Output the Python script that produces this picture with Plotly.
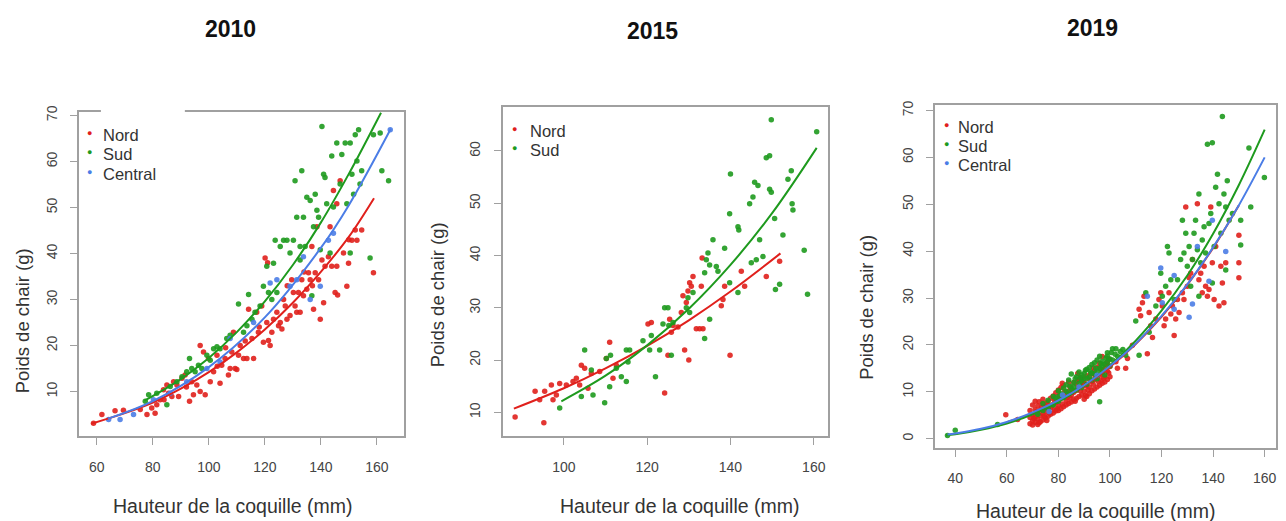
import plotly.graph_objects as go

W, H = 1286, 521
RED, GREEN, BLUE = "#E0201C", "#1E9A1E", "#4B7DE6"

# ---------------- 2010 ----------------
nord10_x = [58.8,61.8,66.5,69.5,75.5,77.9,79.6,80.8,81.4,82.6,83.8,84.0,85.0,85.6,86.8,87.4,88.6,89.2,90.4,91.5,92.0,93.1,93.9,94.5,95.7,96.9,96.9,98.1,98.7,99.9,100.5,101.7,102.9,103.0,104.0,104.6,105.8,106.0,107.0,107.6,108.2,108.8,109.4,110.0,110.6,111.2,112.4,113.0,113.6,114.2,115.4,116.0,117.1,117.7,118.0,118.9,119.5,120.1,120.7,121.0,121.3,121.9,122.5,123.1,124.3,124.9,125.5,126.1,126.7,127.3,127.9,128.0,129.0,129.6,130.2,130.8,131.4,132.0,132.6,133.2,133.8,134.0,135.0,135.6,136.2,136.8,137.0,137.4,138.0,138.6,139.2,139.8,140.4,141.0,141.5,142.7,143.3,143.9,144.5,145.1,145.7,145.7,146.0,146.9,148.1,149.3,149.9,150.0,151.1,152.3,152.9,154.6,158.8]
nord10_y = [3.1,5.0,5.8,5.9,6.1,5.0,6.4,5.3,7.1,8.2,10.4,8.2,11.4,9.6,8.9,12.1,11.4,8.9,12.9,13.6,11.0,7.9,12.1,9.3,11.4,10.0,20.0,18.6,9.3,17.2,12.1,14.3,17.9,15.5,11.8,15.7,17.2,19.5,13.6,15.0,18.6,22.9,15.0,14.8,17.9,20.0,17.2,21.0,17.2,27.9,21.5,17.2,27.2,22.9,24.0,28.6,20.7,39.0,25.0,38.0,21.1,20.0,22.9,25.7,27.2,24.3,25.0,23.6,30.0,28.6,25.7,33.0,26.5,34.3,31.5,28.6,27.2,31.5,27.2,34.3,30.8,36.0,32.2,35.8,34.3,41.5,33.0,27.9,35.8,45.8,34.3,25.7,38.6,29.3,37.2,39.3,45.8,37.2,53.7,31.5,37.2,50.8,31.0,55.8,40.1,32.9,37.9,43.0,42.9,45.1,42.9,45.1,35.8]
sud10_x = [77.3,78.5,81.4,85.0,86.2,88.6,90.4,92.1,93.1,93.9,95.1,96.3,97.5,99.3,100.5,101.7,102.9,104.0,106.4,107.6,110.6,112.4,113.6,114.2,115.4,116.5,118.3,119.5,120.7,121.3,122.5,123.1,123.7,124.3,125.5,126.7,127.9,129.0,130.2,130.8,131.4,132.6,132.6,133.2,133.8,134.4,135.0,136.2,136.8,137.4,138.0,138.6,139.2,139.8,140.4,141.0,141.5,142.1,143.3,143.9,144.5,145.7,146.9,147.5,148.7,149.3,150.5,150.5,151.1,151.7,152.3,152.9,153.5,154.0,154.6,157.6,158.8,161.2,161.8,164.2]
sud10_y = [7.9,9.3,9.6,7.1,11.1,12.1,13.2,14.3,17.2,15.0,14.3,15.7,15.0,17.9,16.8,19.3,19.7,19.3,21.5,22.2,29.0,22.9,24.3,31.1,25.7,27.2,28.6,32.9,37.2,31.5,30.0,37.9,42.9,31.5,41.5,42.9,42.9,40.1,42.9,55.8,47.9,38.6,41.5,58.0,47.9,41.5,52.2,51.5,30.8,45.8,52.9,49.4,47.9,40.8,67.6,57.2,56.5,50.8,40.1,61.2,50.1,64.0,55.1,61.5,64.0,50.8,64.0,40.1,57.2,52.9,65.8,60.1,66.9,55.1,58.0,39.0,65.8,66.2,58.0,55.8]
central10_x = [64.2,68.3,73.1,80.2,86.2,92.1,99.3,104.0,107.6,116.0,121.9,124.3,129.0,131.4,133.8,136.2,139.8,142.7,144.5,164.8]
central10_y = [3.9,3.9,5.0,8.2,9.6,12.1,15.0,16.4,21.5,25.0,33.6,34.3,32.9,34.3,39.3,30.0,32.9,42.9,44.4,66.9]
# fitted curves
fit_nord10_x = [58,70,80,90,100,110,120,130,140,150,159]
fit_nord10_y = [3.0,5.3,7.6,10.6,14.2,18.5,23.5,29.3,36.0,43.6,52.0]
fit_sud10_x = [77,90,100,110,120,130,140,150,161.5]
fit_sud10_y = [8.0,12.7,17.3,22.9,29.6,37.5,46.7,57.3,70.6]
fit_central10_x = [64,80,100,120,140,150,165]
fit_central10_y = [4.1,7.9,15.3,26.1,41.2,50.5,67.1]

# ---------------- 2015 ----------------
nord15_x = [88.3,93.1,94.2,95.2,95.4,97.0,97.4,98.2,99.0,100.6,102.2,103.0,103.8,104.2,105.0,105.8,106.6,108.6,110.2,111.0,111.8,112.6,120.2,121.0,124.2,125.0,125.4,125.8,126.2,127.4,128.2,128.6,129.0,129.4,129.8,130.2,130.0,130.6,131.0,131.8,132.6,133.0,133.4,133.2,137.8,138.2,138.6,139.9,142.6,143.4,148.6,151.8]
nord15_y = [9.1,14.0,12.4,8.0,14.0,15.2,12.4,13.3,15.5,15.2,15.9,16.5,15.2,19.0,18.4,14.6,17.4,17.8,20.3,23.4,16.5,19.0,26.9,27.2,13.7,20.9,27.8,25.3,26.6,26.3,29.1,32.3,21.9,31.0,33.2,34.8,20.0,34.1,36.0,26.0,26.0,34.1,26.0,39.5,30.4,31.6,34.1,20.9,37.0,34.1,36.0,38.9]
sud15_x = [99.0,104.2,105.0,106.6,107.0,109.8,110.2,111.0,111.2,112.6,113.8,115.0,115.0,115.4,115.8,119.0,120.6,121.0,122.0,123.0,123.8,124.2,125.0,125.2,125.8,126.2,129.4,129.8,130.2,131.0,133.8,133.8,134.2,134.6,135.0,135.0,135.8,136.6,137.0,138.6,139.8,139.8,140.0,141.8,141.8,142.0,144.6,145.0,145.4,145.8,146.2,146.6,147.0,147.8,148.6,149.4,149.8,149.4,149.8,150.6,150.8,151.8,152.6,153.8,154.6,154.8,155.0,157.7,158.5,160.7]
sud15_y = [10.8,13.0,21.9,18.1,13.3,11.8,20.3,14.9,20.9,18.4,16.8,15.9,21.9,19.6,21.9,23.7,21.9,24.7,16.8,21.9,26.9,30.0,30.0,26.6,20.9,27.2,30.0,31.9,29.1,32.9,24.1,36.7,39.2,40.5,38.2,27.8,43.0,37.9,37.0,41.4,48.0,34.8,55.6,45.5,32.9,44.9,49.9,38.6,51.2,54.0,39.2,53.4,43.0,39.8,58.7,59.1,66.0,52.7,52.1,47.1,33.5,34.5,43.9,54.6,56.2,49.9,48.7,41.0,32.6,63.7]
fit_nord15_x = [88,100,110,120,130,140,152]
fit_nord15_y = [10.7,14.6,18.4,22.7,27.6,33.1,40.4]
fit_sud15_x = [99.4,110,120,130,140,150,160.7]
fit_sud15_y = [12.1,17.0,22.8,29.8,38.2,48.1,60.6]

# ---------------- 2019 ----------------
nord19_x = [59.6,64.2,69,69,69,70,70,70,70,71,71,71,71,72,72,72,72,73,73,73,74,74,74,74,75,75,75,76,76,76,77,77,77,78,78,78,79,79,79,80,80,80,80,81,81,81,82,82,82,83,83,83,84,84,84,85,85,85,86,86,86,87,87,87,88,88,88,89,89,89,90,90,90,91,91,91,92,92,92,93,93,93,94,94,94,95,95,95,96,96,96,97,97,97,98,98,98,99,99,99,100,100,
            70.5,71.5,72.5,73.5,74.5,75.5,76.5,77.5,78.5,79.5,80.5,81.5,82.5,83.5,84.5,85.5,86.5,87.5,88.5,89.5,90.5,91.5,92.5,93.5,94.5,95.5,96.5,97.5,98.5,99.5,72.5,75.5,78.5,81.5,84.5,87.5,90.5,93.5,96.5,99.5,
            102.3,102.9,106.1,106.8,108.7,111.3,111.9,112.6,113.2,114.5,115.2,115.8,116.5,117.8,119.0,119.7,120.3,121.0,121.6,122.9,123.6,124.2,124.9,125.5,126.2,126.8,128.1,128.7,129.4,130.0,130.7,131.3,132.0,133.9,134.5,135.2,135.8,136.5,137.1,137.8,138.4,139.1,139.7,140.4,141.0,142.3,143.0,143.6,144.2,144.9,150.0,150.0,150.0]
nord19_y = [5.1,4.1,3.2,4.5,6.0,2.9,3.8,5.1,7.2,3.5,4.6,6.3,8.0,3.0,4.2,5.5,7.0,3.6,4.9,6.1,4.0,5.3,7.4,8.4,4.4,5.8,6.8,4.8,6.2,7.9,5.2,6.6,8.6,5.5,7.3,9.1,5.9,7.7,9.8,6.0,8.2,10.4,7.0,6.4,8.6,10.9,6.8,9.0,11.3,7.2,9.5,8.1,7.5,10.0,12.1,7.8,9.2,10.8,8.3,9.9,12.0,8.6,10.3,11.6,9.0,10.8,12.6,9.3,11.2,13.0,8.4,10.1,12.0,9.0,11.5,13.4,9.6,11.0,12.7,10.2,12.2,13.8,10.6,12.6,14.5,11.0,13.1,15.2,11.4,13.5,16.1,11.8,14.0,17.5,12.1,13.2,15.0,12.6,14.4,16.3,13.2,15.4,
            4.3,5.8,3.4,6.7,4.8,7.6,5.5,7.0,8.2,6.4,9.3,7.4,10.1,8.8,11.0,9.9,8.0,12.4,10.2,12.0,11.3,10.4,13.9,11.6,13.3,12.2,14.8,12.9,16.0,14.0,7.9,3.9,6.1,11.8,8.7,13.9,9.2,15.1,12.4,17.0,
            16.4,15.0,15.0,17.1,19.9,27.6,26.2,29.0,30.4,18.1,26.9,24.1,21.6,25.5,29.7,31.1,28.3,24.1,25.5,31.1,26.6,28.3,22.0,25.5,29.7,26.9,31.1,29.7,49.4,32.5,34.3,35.3,38.2,50.1,33.9,35.3,31.1,36.8,32.5,30.4,31.8,49.4,37.5,29.7,41.0,28.3,36.8,33.2,29.0,37.5,43.4,37.5,34.3]
sud19_x = [37.0,40.0,56.4,72,74,74,76,76,78,78,80,80,80,82,82,83,84,84,85,85,86,86,87,87,88,88,89,89,90,90,91,91,92,92,93,93,94,94,95,95,96,96,96,97,97,98,98,99,99,100,100,101,101,103,105,
           79,81,83,84.5,86.5,88.5,90.5,92.5,94.5,96.5,98.5,100.5,102,104,89,91,93,95,97,99,
           102.3,106.1,110.0,111.3,113.9,115.2,117.8,119.7,120.3,121.6,122.3,122.9,123.6,124.9,126.2,127.4,128.1,128.7,129.4,130.0,130.7,131.3,132.0,132.6,133.2,133.9,134.5,135.2,135.8,136.5,137.1,137.8,138.4,139.1,139.7,140.4,141.0,141.7,142.3,143.0,143.6,144.2,144.9,145.5,146.2,147.5,150.7,150.7,154.6,153.9,159.9,144.9,139.7,134.5]
sud19_y = [0.7,1.8,3.0,5.2,6.0,7.5,6.5,8.2,7.2,9.0,8.0,10.2,9.0,8.8,10.8,11.5,9.5,12.5,10.5,13.8,11.0,12.0,10.4,13.2,11.8,14.2,12.3,10.9,12.8,13.9,11.6,14.8,13.2,15.2,12.5,14.0,13.8,16.2,14.4,12.8,15.0,17.6,7.9,14.2,16.5,15.8,13.6,16.4,18.3,15.5,17.0,16.8,19.2,17.5,19.0,
           8.6,9.6,10.1,11.2,12.8,13.0,14.6,14.2,15.0,16.0,17.2,18.4,18.0,18.6,13.6,12.9,15.8,16.8,15.4,17.6,
           19.2,17.8,25.1,17.8,31.1,22.7,28.3,35.3,30.4,32.5,41.0,39.6,33.9,29.7,33.9,38.2,46.6,39.6,43.8,36.8,41.0,32.5,38.2,43.8,46.6,40.3,52.2,37.5,42.4,45.2,39.6,62.8,45.9,48.0,63.1,41.0,53.6,56.4,50.1,43.8,68.7,52.2,49.4,55.0,46.6,48.0,46.6,41.3,49.4,62.0,55.7,36.0,33.2,30.4]
central19_x = [76.4,81.6,88.0,95.0,114.5,119.7,120.3,124.9,124.9,130.7,132.0,133.9,138.4,139.7,144.9]
central19_y = [5.8,9.3,11.0,13.5,30.4,36.4,29.0,34.8,27.6,25.9,28.7,41.0,33.6,46.6,39.9]
fit_nord19_x = [60,70,80,90,100,110,120,130,140,150]
fit_nord19_y = [3.5,5.4,8.0,11.2,15.3,20.2,26.0,32.8,40.7,49.8]
fit_sud19_x = [36.4,40,50,60,70,80,90,100,110,120,130,140,150,160]
fit_sud19_y = [0.7,0.93,1.9,3.25,5.2,7.85,11.3,15.6,20.9,27.3,34.8,43.7,54.1,65.9]
fit_central19_x = [37,40,50,60,70,80,90,100,110,120,130,140,150,160]
fit_central19_y = [0.88,1.1,2.1,3.56,5.6,8.15,11.4,15.5,20.3,26.2,32.9,40.8,49.8,60.0]

titles = ["2010", "2015", "2019"]
x_title = "Hauteur de la coquille (mm)"
y_title = "Poids de chair (g)"

# ---------------- layout helpers ----------------
def px(x):
    return x / W

def py(y):
    return 1 - y / H

FONT = "Liberation Sans, Arial, sans-serif"
fig = go.Figure()

panels = [
    dict(ax="", box=(79, 404, 107, 435), xr=[53.6, 169.6], yr=[0.33, 70.8],
         xt=[60, 80, 100, 120, 140, 160], yt=[10, 20, 30, 40, 50, 60, 70],
         pts=[(nord10_x, nord10_y, RED), (sud10_x, sud10_y, GREEN), (central10_x, central10_y, BLUE)],
         fits=[(fit_nord10_x, fit_nord10_y, RED), (fit_sud10_x, fit_sud10_y, GREEN), (fit_central10_x, fit_central10_y, BLUE)],
         title=(231, 23), xtit=(233, 506), ytit=(22, 318),
         leg=[("Nord", RED), ("Sud", GREEN), ("Central", BLUE)], legpos=(90, 101, 130, 20)),
    dict(ax="2", box=(503, 829, 102, 435), xr=[85.3, 163.5], yr=[5.46, 68.45],
         xt=[100, 120, 140, 160], yt=[10, 20, 30, 40, 50, 60],
         pts=[(nord15_x, nord15_y, RED), (sud15_x, sud15_y, GREEN)],
         fits=[(fit_nord15_x, fit_nord15_y, RED), (fit_sud15_x, fit_sud15_y, GREEN)],
         title=(653, 25), xtit=(681, 506), ytit=(438, 292),
         leg=[("Nord", RED), ("Sud", GREEN)], legpos=(515, 528, 126, 20)),
    dict(ax="3", box=(936, 1277, 100, 447), xr=[32.25, 164.4], yr=[-1.96, 71.2],
         xt=[40, 60, 80, 100, 120, 140, 160], yt=[0, 10, 20, 30, 40, 50, 60, 70],
         pts=[(nord19_x, nord19_y, RED), (sud19_x, sud19_y, GREEN), (central19_x, central19_y, BLUE)],
         fits=[(fit_nord19_x, fit_nord19_y, RED), (fit_sud19_x, fit_sud19_y, GREEN), (fit_central19_x, fit_central19_y, BLUE)],
         title=(1093, 22), xtit=(1097, 511), ytit=(867, 305),
         leg=[("Nord", RED), ("Sud", GREEN), ("Central", BLUE)], legpos=(947, 957, 122, 19.5)),
]

def note(text, x, y, size, color="#333333", angle=0, xanchor="center"):
    return dict(text=text, x=px(x), y=py(y), xref="paper", yref="paper", showarrow=False,
                xanchor=xanchor, yanchor="middle", textangle=angle,
                font=dict(family=FONT, size=size, color=color))

annotations = []
shapes = []
for i, p in enumerate(panels):
    xa, ya = "x" + p["ax"], "y" + p["ax"]
    for (xs, ys, c) in p["pts"]:
        fig.add_trace(go.Scatter(x=xs, y=ys, mode="markers", xaxis=xa, yaxis=ya,
                                 marker=dict(color=c, size=5.5, opacity=0.9, line=dict(width=0)),
                                 showlegend=False, hoverinfo="skip"))
    for (xs, ys, c) in p["fits"]:
        fig.add_trace(go.Scatter(x=xs, y=ys, mode="lines", xaxis=xa, yaxis=ya,
                                 line=dict(color=c, width=2, shape="spline"),
                                 showlegend=False, hoverinfo="skip"))
    x0, x1, y0, y1 = p["box"]
    axis_common = dict(showgrid=False, zeroline=False, showline=True, mirror=True,
                       linecolor="#a0a0a0", linewidth=1.6, ticks="outside", ticklen=7,
                       tickcolor="#a0a0a0", tickwidth=1.2,
                       tickfont=dict(family=FONT, size=14, color="#444444"))
    fig.update_layout(**{
        "xaxis" + p["ax"]: dict(domain=[px(x0), px(x1)], range=p["xr"], tickvals=p["xt"],
                                anchor=ya, ticklabelstandoff=10, **axis_common),
        "yaxis" + p["ax"]: dict(domain=[py(y1), py(y0)], range=p["yr"], tickvals=p["yt"],
                                anchor=xa, tickangle=-90, ticklabelstandoff=8, **axis_common),
    })
    annotations.append(note("<b>%s</b>" % titles[i], p["title"][0], p["title"][1], 23, "#111111"))
    annotations.append(note(x_title, p["xtit"][0], p["xtit"][1], 19.5))
    annotations.append(note(y_title, p["ytit"][0], p["ytit"][1], 18.5, angle=-90))
    bx, tx, ty, dy = p["legpos"]
    for k, (name, c) in enumerate(p["leg"]):
        yy = ty + k * dy
        annotations.append(note("●", bx, yy - 2, 9, c))
        annotations.append(note(name, tx, yy, 16.5, xanchor="left"))

# white legend background cutting the top frame of the first panel
shapes.append(dict(type="rect", xref="paper", yref="paper", x0=px(101), x1=px(185),
                   y0=py(110), y1=py(104), fillcolor="white", line=dict(width=0), layer="above"))

fig.update_layout(width=W, height=H, margin=dict(l=0, r=0, t=0, b=0),
                  paper_bgcolor="white", plot_bgcolor="white", showlegend=False,
                  annotations=annotations, shapes=shapes)

fig.write_html("out.html")
